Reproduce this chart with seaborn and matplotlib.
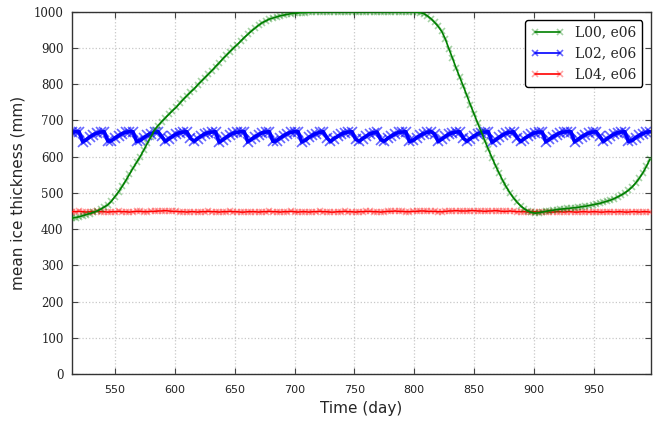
import numpy as np
import pandas as pd
import matplotlib
matplotlib.use("Agg")
import matplotlib.pyplot as plt
import seaborn as sns

# Simulation days (sampled every 3 days)
days = np.arange(514, 998, 3)

# Mean ice thickness (mm) for each run
l00_e06 = [
    430, 432, 434, 437, 440, 443, 446, 450, 455, 461,
    467, 477, 490, 503, 518, 534, 551, 568, 584, 600,
    618, 637, 655, 674, 686, 697, 707, 717, 727, 736,
    747, 758, 768, 778, 787, 798, 808, 818, 828, 838,
    849, 859, 870, 880, 890, 900, 909, 919, 929, 938,
    947, 955, 963, 970, 975, 980, 983, 986, 989, 991,
    993, 995, 996, 997, 998, 998, 999,
    1000, 1000, 1000, 1000, 1000, 1000, 1000, 1000, 1000, 1000,
    1000, 1000, 1000, 1000, 1000, 1000, 1000, 1000, 1000, 1000,
    1000, 1000, 1000, 1000, 1000, 1000, 1000, 1000, 1000,
    999, 998, 995, 989, 981, 971, 960, 946, 925, 898,
    872, 845, 820, 795, 769, 743, 718, 693, 669, 644,
    620, 597, 575, 554, 534, 516, 500, 486, 474, 464,
    456, 450, 446, 444, 445, 447, 449, 451, 452, 454,
    455, 456, 457, 458, 459, 460, 462, 463, 465, 467,
    469, 471, 474, 477, 480, 484, 489, 494, 500, 507,
    516, 527, 540, 555, 573, 593,
]

l02_e06 = [
    667, 669, 669, 641, 647, 655, 661, 665, 668, 669,
    643, 644, 652, 658, 664, 667, 669, 669, 642, 645,
    652, 659, 664, 667, 669, 656, 642, 649, 656, 662,
    666, 668, 669, 651, 643, 650, 657, 663, 666, 668,
    669, 640, 646, 654, 660, 665, 667, 669, 669, 641,
    648, 655, 661, 666, 668, 669, 642, 644, 652, 658,
    664, 667, 669, 669, 641, 645, 653, 659, 664, 667,
    669, 652, 642, 650, 656, 662, 666, 668, 669, 648,
    643, 650, 657, 663, 666, 668, 647, 643, 651, 657,
    663, 667, 668, 669, 642, 645, 652, 659, 664, 667,
    669, 663, 642, 648, 656, 662, 666, 668, 669, 651,
    643, 650, 657, 663, 666, 668, 669, 640, 646, 654,
    660, 665, 667, 669, 652, 642, 650, 656, 662, 666,
    668, 668, 641, 648, 655, 661, 666, 668, 669, 669,
    641, 648, 655, 661, 665, 668, 669, 656, 642, 649,
    656, 662, 666, 668, 669, 642, 645, 652, 659, 664,
    667, 669,
]

l04_e06 = [
    448, 448, 449, 448, 447, 448, 448, 449, 448, 448,
    447, 448, 448, 449, 448, 448, 447, 448, 449, 449,
    448, 448, 449, 449, 450, 450, 451, 450, 449, 449,
    448, 448, 447, 448, 448, 447, 448, 448, 449, 448,
    448, 447, 448, 448, 449, 448, 448, 447, 447, 448,
    448, 448, 447, 448, 448, 449, 448, 448, 447, 448,
    448, 449, 448, 447, 448, 448, 447, 448, 448, 449,
    448, 448, 447, 447, 448, 448, 449, 448, 448, 447,
    448, 448, 449, 449, 448, 448, 447, 448, 449, 449,
    450, 449, 449, 448, 448, 449, 449, 450, 450, 449,
    449, 449, 448, 448, 449, 450, 450, 451, 450, 450,
    450, 451, 451, 450, 450, 449, 450, 450, 451, 450,
    449, 449, 450, 449, 448, 448, 448, 447, 448, 448,
    447, 448, 448, 447, 447, 448, 448, 447, 448, 448,
    447, 447, 448, 448, 447, 448, 448, 447, 447, 448,
    448, 447, 448, 448, 447, 447, 448, 448, 447, 448,
    448, 447,
]

labels = ["L00, e06", "L02, e06", "L04, e06"]
colors = [(0.0, 0.5, 0.0), (0.0, 0.0, 1.0), (1.0, 0.0, 0.0)]
marker_alpha = [0.35, 0.6, 0.35]
marker_sizes = [5, 6.5, 5]
line_widths = [1.2, 2.6, 1.1]
x_ticks = [550, 600, 650, 700, 750, 800, 850, 900, 950]
y_ticks = [0, 100, 200, 300, 400, 500, 600, 700, 800, 900, 1000]

sns.set_style("ticks")
plt.rcParams.update({
    "font.family": ["DejaVu Sans"],
    "xtick.direction": "in",
    "ytick.direction": "in",
    "xtick.top": True,
    "ytick.right": True,
    "xtick.major.size": 4,
    "ytick.major.size": 4,
    "xtick.color": "#444444",
    "ytick.color": "#444444",
    "axes.edgecolor": "#333333",
    "axes.linewidth": 1.0,
})

fig, ax = plt.subplots(figsize=(6.66, 4.23), dpi=100)
fig.subplots_adjust(left=0.108, right=0.977, top=0.972, bottom=0.116)

series = [l00_e06, l02_e06, l04_e06]
zorders = [4, 2, 3]
for name, vals, col, a, ms, lw, z in zip(labels, series, colors, marker_alpha,
                                         marker_sizes, line_widths, zorders):
    df = pd.DataFrame({"day": days, "thickness": vals})
    sns.lineplot(
        data=df, x="day", y="thickness", ax=ax, color=col, label=name,
        marker="x", markersize=ms, markeredgewidth=1.2,
        markeredgecolor=col + (a,), linewidth=lw, zorder=z,
    )

ax.set_xlim(514, 997.6)
ax.set_ylim(0, 1000)
ax.set_xticks(x_ticks)
ax.set_yticks(y_ticks)
ax.set_yticklabels([str(v) for v in y_ticks], fontfamily="DejaVu Serif",
                   fontsize=8.5, color="#222222")
ax.tick_params(axis="x", labelsize=8, labelcolor="#222222", pad=8)
ax.tick_params(axis="y", pad=6)
ax.grid(True, linestyle=":", color="#c8c8c8", linewidth=0.9)
for s in ax.spines.values():
    s.set_visible(True)

ax.set_xlabel("Time (day)", fontsize=11, labelpad=4)
ax.set_ylabel("mean ice thickness (mm)", fontsize=11, labelpad=6)

leg = ax.legend(loc="upper right", prop={"family": "DejaVu Serif", "size": 10},
                fancybox=True, frameon=True, edgecolor="black", framealpha=1,
                numpoints=2, handlelength=2.4, borderaxespad=0.6)
for h in leg.get_lines():
    h.set_linewidth(1.2)
    h.set_markersize(5)

fig.savefig("out.png", dpi=100)
